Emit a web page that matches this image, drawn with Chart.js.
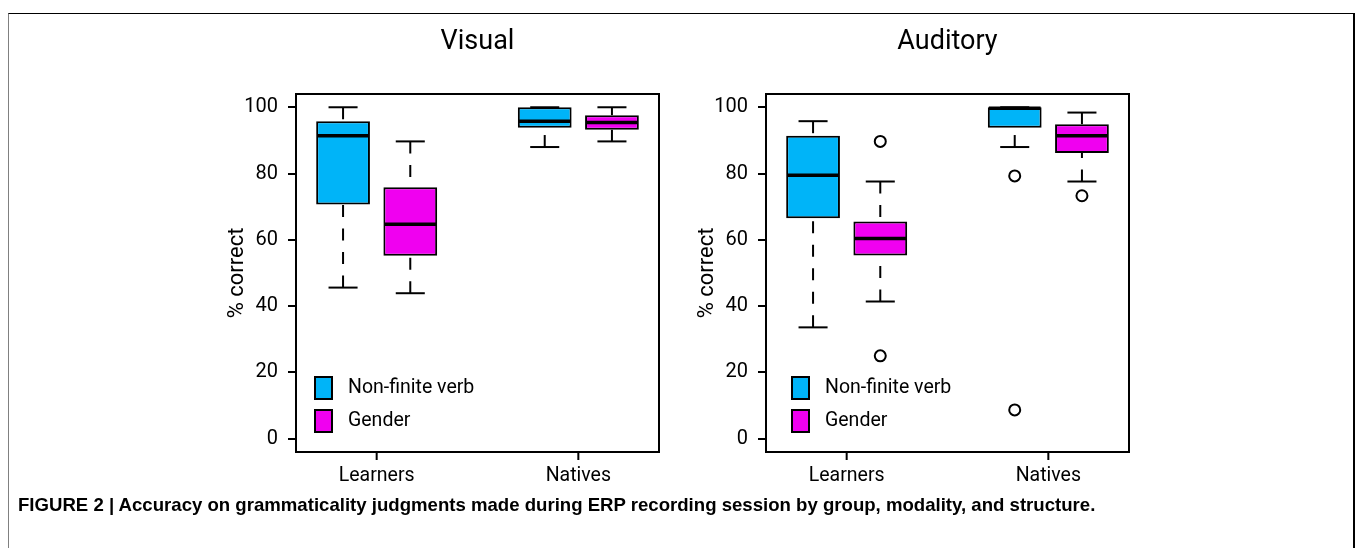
<!DOCTYPE html>
<html>
<head>
<meta charset="utf-8">
<script src="https://cdn.jsdelivr.net/npm/chart.js@4.4.1/dist/chart.umd.min.js"></script>
<style>
  html, body { margin: 0; padding: 0; background: #fff; }
  body { width: 1355px; height: 548px; position: relative; overflow: hidden; }
  #frame { position: absolute; left: 8px; top: 13px; width: 1344px; height: 600px;
           border-top: 1px solid #000; border-left: 1px solid #808080; border-right: 2px solid #000; }
  .panel { position: absolute; top: 0; height: 500px; width: 490px; }
  #visualBox { left: 180px; }
  #auditoryBox { left: 660px; }
  #caption { position: absolute; left: 18px; top: 494px; color: #000; white-space: nowrap;
             font: bold 18.6px 'Liberation Sans', sans-serif; }
</style>
</head>
<body>
<div id="frame"></div>
<div class="panel" id="visualBox"><canvas id="visualChart"></canvas></div>
<div class="panel" id="auditoryBox"><canvas id="auditoryChart"></canvas></div>
<div id="caption">FIGURE 2 | Accuracy on grammaticality judgments made during ERP recording session by group, modality, and structure.</div>
<script>
const GROUPS = ['Learners', 'Natives'];
const SERIES = ['Non-finite verb', 'Gender'];
const SERIES_COLORS = ['#00B4F8', '#F000F0'];
const Y_TICKS = [0, 20, 40, 60, 80, 100];

// per group: [lower whisker, Q1, median, Q3, upper whisker]
const visualVerb = [[45.6, 70.7, 91.4, 95.8, 100], [88.0, 93.8, 95.8, 100, 100]];
const visualGender = [[43.9, 55.2, 64.7, 75.9, 89.7], [89.7, 93.2, 95.4, 97.6, 100]];
const visualVerbOutliers = [[], []];
const visualGenderOutliers = [[], []];

const auditoryVerb = [[33.6, 66.5, 79.5, 91.4, 95.8], [88.0, 93.8, 99.7, 100, 100]];
const auditoryGender = [[41.4, 55.3, 60.4, 65.5, 77.6], [77.6, 86.2, 91.4, 94.9, 98.4]];
const auditoryVerbOutliers = [[], [79.3, 8.7]];
const auditoryGenderOutliers = [[89.7, 25.0], [73.3]];

// boxes sit at 1,2 (Learners) and 4,5 (Natives)
const boxPos = (g, s) => g * 3 + s + 1;

function boxDatasets(statsList, outlierList) {
  const sets = [];
  statsList.forEach((stats, s) => {
    sets.push({
      type: 'bar',
      label: SERIES[s],
      data: stats.map((st, g) => ({ x: boxPos(g, s), y: [st[1], st[3]] })),
      stats: stats,
      backgroundColor: SERIES_COLORS[s],
      borderColor: '#000',
      borderWidth: 2,
      borderSkipped: false,
      grouped: false,
      categoryPercentage: 1,
      barPercentage: 0.8,
      order: 2
    });
  });
  outlierList.forEach((outs, s) => {
    const pts = [];
    outs.forEach((vals, g) => vals.forEach(v => pts.push({ x: boxPos(g, s), y: v })));
    sets.push({
      type: 'scatter',
      label: SERIES[s] + ' outliers',
      data: pts,
      pointRadius: 5.5,
      pointBorderWidth: 2,
      pointBackgroundColor: '#fff',
      pointBorderColor: '#000',
      order: 1
    });
  });
  return sets;
}

// whiskers, caps and medians
const whiskerPlugin = {
  id: 'whiskers',
  afterDatasetsDraw(chart) {
    const ctx = chart.ctx, y = chart.scales.y;
    chart.data.datasets.forEach((ds, i) => {
      if (!ds.stats) return;
      chart.getDatasetMeta(i).data.forEach((bar, j) => {
        const st = ds.stats[j];
        const { x, width } = bar.getProps(['x', 'width'], true);
        const cap = width * 0.27;
        ctx.save();
        ctx.strokeStyle = '#000';
        ctx.lineWidth = 2;
        ctx.setLineDash([12, 11.5]);
        [[st[0], st[1]], [st[4], st[3]]].forEach(([end, edge]) => {
          if (end === edge) return;
          ctx.beginPath();
          ctx.moveTo(x, y.getPixelForValue(end));
          ctx.lineTo(x, y.getPixelForValue(edge));
          ctx.stroke();
        });
        ctx.setLineDash([]);
        [st[0], st[4]].forEach(v => {
          const py = y.getPixelForValue(v);
          ctx.beginPath();
          ctx.moveTo(x - cap, py);
          ctx.lineTo(x + cap, py);
          ctx.stroke();
        });
        ctx.lineWidth = 3.5;
        const my = y.getPixelForValue(st[2]);
        ctx.beginPath();
        ctx.moveTo(x - width / 2 + 1, my);
        ctx.lineTo(x + width / 2 - 1, my);
        ctx.stroke();
        ctx.restore();
      });
    });
  }
};

// box round the plot region plus the x tick marks
const framePlugin = {
  id: 'frame',
  afterDraw(chart) {
    const { ctx, chartArea: a } = chart;
    const xs = chart.scales.x;
    ctx.save();
    ctx.strokeStyle = '#000';
    ctx.lineWidth = 2;
    ctx.strokeRect(a.left, a.top, a.right - a.left, a.bottom - a.top);
    xs.ticks.forEach((t, i) => {
      const px = xs.getPixelForTick(i);
      ctx.beginPath();
      ctx.moveTo(px, a.bottom);
      ctx.lineTo(px, a.bottom + 8);
      ctx.stroke();
    });
    ctx.restore();
  }
};

const legendPlugin = {
  id: 'boxLegend',
  afterDraw(chart, args, o) {
    const { ctx, chartArea } = chart;
    const boxes = chart.data.datasets.filter(d => d.type === 'bar');
    ctx.save();
    boxes.forEach((ds, i) => {
      const cy = chartArea.bottom - 64 + i * 33;
      const x0 = chartArea.left + o.inset;
      ctx.fillStyle = ds.backgroundColor;
      ctx.fillRect(x0, cy - 11, 17, 22);
      ctx.strokeStyle = '#000';
      ctx.lineWidth = 2;
      ctx.strokeRect(x0, cy - 11, 17, 22);
      ctx.fillStyle = '#000';
      ctx.font = '19.5px Roboto';
      ctx.textBaseline = 'middle';
      ctx.fillText(ds.label, x0 + 33, cy);
    });
    ctx.restore();
  }
};

function makeChart(id, titleText, statsList, outlierList, opts) {
  return new Chart(document.getElementById(id), {
    type: 'bar',
    data: { datasets: boxDatasets(statsList, outlierList) },
    options: {
      responsive: true,
      maintainAspectRatio: false,
      animation: false,
      layout: { padding: { left: 0, right: opts.padRight, top: 0, bottom: 0 } },
      plugins: {
        legend: { display: false },
        tooltip: { enabled: false },
        title: {
          display: true,
          text: titleText,
          fullSize: false,
          color: '#000',
          font: { family: 'Roboto', size: 27, weight: 'normal' },
          padding: { top: 26, bottom: 35.6 }
        },
        boxLegend: { inset: opts.legendInset }
      },
      scales: {
        x: {
          type: 'linear',
          min: 0.3,
          max: 5.7,
          offset: false,
          afterBuildTicks: s => { s.ticks = GROUPS.map((g, i) => ({ value: i * 3 + 1.5 })); },
          afterFit: s => { s.height = 48; },
          ticks: {
            callback: (v, i) => GROUPS[i],
            color: '#000',
            font: { family: 'Roboto', size: 19.5 },
            padding: 4,
            maxRotation: 0,
            autoSkip: false
          },
          grid: { display: false },
          border: { display: false }
        },
        y: {
          min: -4,
          max: 104,
          afterBuildTicks: s => { s.ticks = Y_TICKS.map(v => ({ value: v })); },
          afterFit: s => { s.width = opts.axisWidth; },
          ticks: {
            color: '#000',
            font: { family: 'Roboto', size: 20 },
            padding: 10
          },
          grid: { display: true, offset: false, drawOnChartArea: false, tickLength: 8, color: '#000', lineWidth: 2 },
          border: { display: false },
          title: {
            display: true,
            text: '% correct',
            color: '#000',
            font: { family: 'Roboto', size: 22 },
            padding: { top: opts.yTitlePad, bottom: 0 }
          }
        }
      }
    },
    plugins: [whiskerPlugin, framePlugin, legendPlugin]
  });
}

makeChart('visualChart', 'Visual', [visualVerb, visualGender], [visualVerbOutliers, visualGenderOutliers],
  { axisWidth: 116, padRight: 11, yTitlePad: 43.8, legendInset: 19 });
makeChart('auditoryChart', 'Auditory', [auditoryVerb, auditoryGender], [auditoryVerbOutliers, auditoryGenderOutliers],
  { axisWidth: 106, padRight: 21, yTitlePad: 33.8, legendInset: 26 });
</script>
</body>
</html>
